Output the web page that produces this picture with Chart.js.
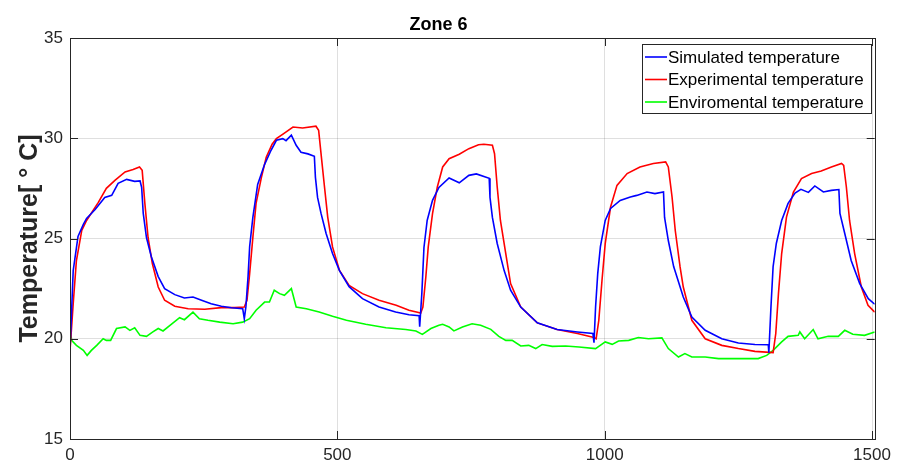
<!DOCTYPE html>
<html>
<head>
<meta charset="utf-8">
<script src="https://cdn.jsdelivr.net/npm/chart.js@4.4.1/dist/chart.umd.min.js"></script>
<style>
  body { margin: 0; background: #fff; }
</style>
</head>
<body>
<canvas id="myChart" width="897" height="463"></canvas>
<script>
// data (time, temperature in deg C)
const simTime = [0, 6, 15, 25, 31, 47, 65, 78, 90, 106, 121, 131, 134, 137, 143, 152, 165, 177, 196, 214, 230, 246, 264, 283, 302, 323, 326, 329, 333, 336, 342, 351, 364, 376, 386, 398, 404, 414, 423, 432, 445, 457, 459, 463, 469.5, 479, 491, 504, 522, 547, 578, 609, 634, 653, 654, 658, 662, 668, 678, 690, 709, 728, 746, 760, 784, 785.5, 790, 799, 812, 824, 843, 874, 911, 949, 978, 980, 983, 987, 992, 1001, 1011, 1029, 1048, 1060, 1079, 1094, 1110, 1112, 1119, 1129, 1147, 1163, 1188, 1219, 1250, 1281, 1306, 1307, 1311, 1315, 1321, 1331, 1343, 1356, 1367, 1381, 1393, 1409, 1424, 1438, 1440, 1449, 1461, 1477, 1493, 1505];
const simTemp = [19.4, 23.4, 25.1, 25.7, 26.0, 26.45, 27.05, 27.15, 27.75, 27.95, 27.85, 27.87, 27.55, 26.25, 25.05, 24.1, 23.1, 22.5, 22.2, 22.03, 22.08, 21.92, 21.75, 21.62, 21.55, 21.5, 21.0, 21.6, 23.1, 24.6, 26.05, 27.7, 28.7, 29.4, 29.9, 29.98, 29.88, 30.15, 29.65, 29.3, 29.22, 29.1, 28.05, 27.05, 26.25, 25.25, 24.25, 23.4, 22.6, 22.0, 21.58, 21.33, 21.2, 21.15, 20.6, 22.25, 24.55, 25.9, 26.9, 27.55, 28.02, 27.78, 28.15, 28.22, 28.0, 27.05, 26.05, 24.75, 23.4, 22.42, 21.58, 20.8, 20.46, 20.34, 20.26, 19.8, 21.6, 23.25, 24.6, 25.9, 26.5, 26.9, 27.07, 27.15, 27.32, 27.24, 27.32, 26.05, 24.9, 23.6, 22.08, 21.08, 20.42, 20.0, 19.79, 19.71, 19.7, 19.3, 21.6, 23.6, 24.75, 25.9, 26.75, 27.27, 27.45, 27.3, 27.62, 27.32, 27.4, 27.44, 26.25, 25.25, 23.9, 22.75, 22.0, 21.72];

const expTime = [0, 6, 12, 22, 31, 53, 68, 84, 103, 118, 130, 135, 140, 146, 154, 165, 177, 196, 221, 252, 283, 308, 326, 331, 336, 342, 348, 358, 367, 378, 386, 401, 417, 435, 460, 465, 469.5, 476, 482, 491, 504, 522, 547, 578, 610, 634, 656, 660, 665.5, 670, 678, 687, 697, 709, 728, 746, 764, 774, 790, 794, 799, 805, 815, 824, 843, 874, 911, 949, 980, 984, 989, 995, 1001, 1011, 1023, 1042, 1066, 1091, 1114, 1119, 1126, 1132, 1141, 1147, 1163, 1188, 1219, 1250, 1281, 1315, 1320, 1325, 1331, 1340, 1353, 1368, 1387, 1405, 1424, 1443, 1447, 1452, 1458, 1467.5, 1480, 1492.5, 1505];
const expTemp = [19.4, 21.75, 23.9, 25.4, 25.9, 26.8, 27.5, 27.9, 28.32, 28.44, 28.57, 28.4, 26.75, 25.05, 23.75, 22.58, 21.92, 21.62, 21.5, 21.47, 21.55, 21.55, 21.58, 21.92, 23.25, 25.05, 26.75, 28.05, 29.05, 29.7, 29.98, 30.26, 30.56, 30.51, 30.6, 30.4, 29.23, 27.57, 26.07, 24.58, 23.41, 22.66, 22.25, 21.92, 21.67, 21.42, 21.28, 21.58, 23.08, 24.58, 26.24, 27.57, 28.57, 28.98, 29.2, 29.48, 29.68, 29.7, 29.65, 29.23, 27.57, 25.9, 24.25, 22.75, 21.58, 20.79, 20.46, 20.26, 20.06, 20.0, 20.92, 22.92, 24.74, 26.57, 27.65, 28.24, 28.57, 28.74, 28.82, 28.57, 27.07, 25.4, 23.58, 22.58, 20.92, 20.0, 19.67, 19.51, 19.37, 19.31, 20.26, 22.25, 24.25, 26.07, 27.32, 27.99, 28.24, 28.37, 28.57, 28.74, 28.65, 27.57, 25.9, 24.25, 22.58, 21.67, 21.33];

const envTime = [0, 3, 12, 25, 32, 40, 50, 62, 68, 76, 87, 103, 112, 121, 131, 143, 155, 165, 174, 187, 205, 214, 230, 242, 258, 280, 305, 323, 336, 348, 364, 373, 382, 392, 401, 414, 423, 442, 466, 491, 517, 553, 591, 628, 647, 659, 675, 690, 697, 709, 718, 734, 752, 768, 787, 802, 815, 827, 843, 858, 871, 883, 902, 927, 952, 983, 1001, 1014, 1026, 1045, 1063, 1082, 1107, 1119, 1138, 1150, 1163, 1188, 1213, 1238, 1262, 1287, 1303, 1315, 1331, 1343, 1362, 1365, 1374, 1390, 1399, 1418, 1437, 1449, 1464, 1486, 1505];
const envTemp = [20.59, 19.92, 19.67, 19.42, 19.17, 19.42, 19.67, 20.0, 19.92, 19.92, 20.51, 20.59, 20.42, 20.55, 20.17, 20.12, 20.34, 20.51, 20.39, 20.67, 21.05, 20.95, 21.33, 21.0, 20.92, 20.83, 20.75, 20.83, 21.0, 21.42, 21.83, 21.83, 22.42, 22.25, 22.17, 22.5, 21.58, 21.5, 21.33, 21.12, 20.92, 20.72, 20.55, 20.46, 20.39, 20.22, 20.51, 20.67, 20.72, 20.59, 20.39, 20.59, 20.75, 20.67, 20.47, 20.12, 19.92, 19.92, 19.64, 19.67, 19.51, 19.71, 19.62, 19.64, 19.59, 19.51, 19.84, 19.72, 19.89, 19.92, 20.06, 20.0, 20.04, 19.51, 19.09, 19.26, 19.09, 19.09, 19.01, 19.01, 19.01, 19.01, 19.17, 19.42, 19.84, 20.12, 20.17, 20.34, 20.0, 20.46, 20.0, 20.12, 20.12, 20.42, 20.22, 20.17, 20.34];

const xTicks = [0, 500, 1000, 1500];
const yTicks = [15, 20, 25, 30, 35];

const axisColor = "#262626";
const gridColor = "rgba(38, 38, 38, 0.15)";
const fontFamily = "'Liberation Sans', Arial, Helvetica, sans-serif";

const toPoints = (xs, ys) => xs.map((x, i) => ({ x: x, y: ys[i] }));

// box round the plot + inward ticks on all four sides, matlab style
const boxPlugin = {
  id: "box",
  afterDraw(chart) {
    const { ctx, chartArea: a, scales } = chart;
    const len = 8;
    ctx.save();
    ctx.strokeStyle = axisColor;
    ctx.lineWidth = 1;
    ctx.beginPath();
    xTicks.forEach((v) => {
      const px = Math.round(scales.x.getPixelForValue(v)) + 0.5;
      ctx.moveTo(px, a.bottom);
      ctx.lineTo(px, a.bottom - len);
      ctx.moveTo(px, a.top);
      ctx.lineTo(px, a.top + len);
    });
    yTicks.forEach((v) => {
      const py = Math.round(scales.y.getPixelForValue(v)) + 0.5;
      ctx.moveTo(a.left, py);
      ctx.lineTo(a.left + len, py);
      ctx.moveTo(a.right, py);
      ctx.lineTo(a.right - len, py);
    });
    ctx.stroke();
    ctx.strokeRect(Math.round(a.left) + 0.5, Math.round(a.top) + 0.5, Math.round(a.right - a.left), Math.round(a.bottom - a.top));
    ctx.restore();
  },
};

// legend box in the top right corner
const legendPlugin = {
  id: "boxLegend",
  afterDraw(chart) {
    const ctx = chart.ctx;
    const x0 = 642, y0 = 44, w = 229, h = 69;
    ctx.save();
    ctx.fillStyle = "#fff";
    ctx.fillRect(x0, y0, w, h);
    ctx.strokeStyle = axisColor;
    ctx.lineWidth = 1;
    ctx.strokeRect(x0 + 0.5, y0 + 0.5, w, h);
    ctx.font = "17px " + fontFamily;
    ctx.textBaseline = "middle";
    chart.data.datasets.forEach((ds, i) => {
      const yy = 57 + i * 22.5;
      ctx.strokeStyle = ds.borderColor;
      ctx.lineWidth = 1.6;
      ctx.beginPath();
      ctx.moveTo(645, yy);
      ctx.lineTo(667, yy);
      ctx.stroke();
      ctx.fillStyle = "#000";
      ctx.fillText(ds.label, 668, yy + 1);
    });
    ctx.restore();
  },
};

const ctx = document.getElementById("myChart");
const myChart = new Chart(ctx, {
  type: "line",
  data: {
    datasets: [
      {
        label: "Simulated temperature",
        data: toPoints(simTime, simTemp),
        borderColor: "#0000ff",
        borderWidth: 1.6,
        pointRadius: 0,
      },
      {
        label: "Experimental temperature",
        data: toPoints(expTime, expTemp),
        borderColor: "#ff0000",
        borderWidth: 1.6,
        pointRadius: 0,
      },
      {
        label: "Enviromental temperature",
        data: toPoints(envTime, envTemp),
        borderColor: "#00ff00",
        borderWidth: 1.6,
        pointRadius: 0,
      },
    ],
  },
  options: {
    responsive: false,
    animation: false,
    devicePixelRatio: 1,
    layout: { padding: { left: 0, right: 20, top: 0, bottom: 0 } },
    plugins: {
      legend: { display: false },
      tooltip: { enabled: false },
      title: {
        display: true,
        text: "Zone 6",
        color: "#000",
        font: { family: fontFamily, size: 18, weight: "bold", lineHeight: 1.2 },
        padding: { top: 14.5, bottom: 1.9 },
      },
    },
    scales: {
      x: {
        type: "linear",
        min: 0,
        max: 1505,
        afterBuildTicks: (scale) => {
          scale.ticks = xTicks.map((v) => ({ value: v }));
        },
        afterFit: (scale) => {
          scale.height = 24;
        },
        grid: { color: gridColor, drawTicks: false },
        border: { display: false },
        ticks: {
          color: axisColor,
          padding: 6,
          maxRotation: 0,
          font: { family: fontFamily, size: 17 },
          callback: (v) => String(v),
        },
      },
      y: {
        min: 15,
        max: 35,
        afterBuildTicks: (scale) => {
          scale.ticks = yTicks.map((v) => ({ value: v }));
        },
        afterFit: (scale) => {
          scale.width = 70;
        },
        grid: { color: gridColor, drawTicks: false },
        border: { display: false },
        ticks: {
          color: axisColor,
          padding: 7,
          font: { family: fontFamily, size: 17 },
          callback: (v) => String(v),
        },
        title: {
          display: true,
          text: "Temperature[ ° C]",
          color: axisColor,
          font: { family: fontFamily, size: 25, weight: "bold", lineHeight: 1.2 },
          padding: { top: 15, bottom: 0 },
        },
      },
    },
  },
  plugins: [boxPlugin, legendPlugin],
});
</script>
</body>
</html>
